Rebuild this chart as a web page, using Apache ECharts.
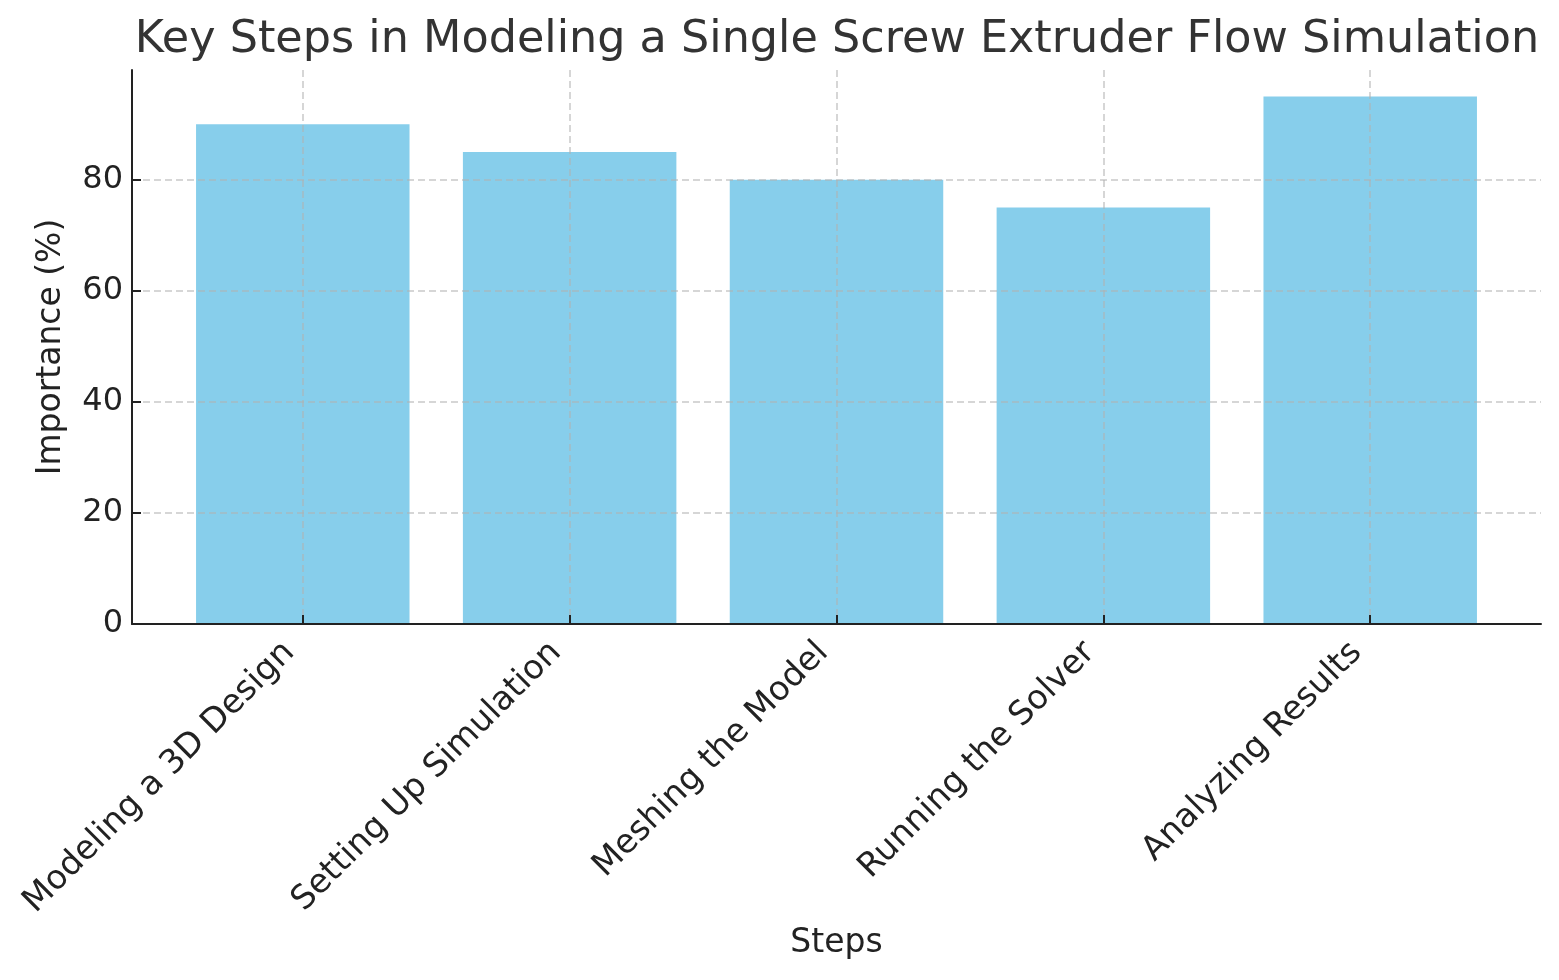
<!DOCTYPE html>
<html>
<head>
<meta charset="utf-8">
<script src="https://cdn.jsdelivr.net/npm/echarts@6/dist/echarts.min.js"></script>
<style>
html,body{margin:0;padding:0;background:#fff;}
#chart{width:1559px;height:980px;}
</style>
</head>
<body>
<div id="chart"></div>
<script>
const titleText = 'Key Steps in Modeling a Single Screw Extruder Flow Simulation';
const categories = ['Modeling a 3D Design', 'Setting Up Simulation', 'Meshing the Model', 'Running the Solver', 'Analyzing Results'];
const importance = [90, 85, 80, 75, 95];
const yTickMax = 80;
const yTickStep = 20;
const yLimit = 99.75;
const xAxisName = 'Steps';
const yAxisName = 'Importance (%)';

const FONT = 'DejaVu Sans';
const gridColor = 'rgba(176,176,176,0.7)';
const dark = '#222222';

// layout (pixels)
const axTop = 70, axBottom = 624, axLeft = 132, axRight = 1541;
const W = 1559, H = 980;
const n = categories.length;
const margin = 0.05 * (n - 1 + 0.8);
const xSpan = (n - 1) + 0.8 + 2 * margin;
const unit = (axRight - axLeft) / xSpan;
const inset = (0.4 + margin) * unit;
const grid2Top = axBottom - yTickMax * (axBottom - axTop) / yLimit;

const chart = echarts.init(document.getElementById('chart'), null, {renderer: 'canvas'});
chart.setOption({
  backgroundColor: '#ffffff',
  animation: false,
  title: {
    text: titleText,
    left: 832,
    textAlign: 'center',
    top: 13,
    textStyle: {fontFamily: FONT, fontSize: 44.5, fontWeight: 'normal', color: '#333333'}
  },
  grid: [
    {left: axLeft, right: W - axRight, top: axTop, bottom: H - axBottom},
    {left: axLeft + inset, right: W - axRight + inset, top: axTop, bottom: H - axBottom},
    {left: axLeft, right: W - axRight, top: grid2Top, bottom: H - axBottom}
  ],
  xAxis: [
    {gridIndex: 0, type: 'value', min: 0, max: 1, z: 6,
     axisLine: {show: true, onZero: false, lineStyle: {color: dark, width: 2}},
     axisTick: {show: false}, axisLabel: {show: false}, splitLine: {show: false}},
    {gridIndex: 1, type: 'category', data: categories, boundaryGap: false, z: 5,
     axisLine: {show: false},
     axisTick: {show: true, inside: true, length: 9, alignWithLabel: true, lineStyle: {color: dark, width: 2}},
     axisLabel: {show: true, rotate: 45, interval: 0, margin: 10, padding: [0, 19, 0, 0],
       fontFamily: FONT, fontSize: 33.5, color: dark},
     splitLine: {show: true, lineStyle: {color: gridColor, width: 1.5, type: [7, 4]}},
     name: xAxisName, nameLocation: 'middle', nameGap: 302,
     nameTextStyle: {fontFamily: FONT, fontSize: 33, color: dark}},
    {gridIndex: 2, type: 'value', min: 0, max: 1, show: false}
  ],
  yAxis: [
    {gridIndex: 0, type: 'value', min: 0, max: yLimit, z: 6,
     axisLine: {show: true, onZero: false, lineStyle: {color: dark, width: 2}},
     axisTick: {show: false}, axisLabel: {show: false}, splitLine: {show: false},
     name: yAxisName, nameLocation: 'middle', nameGap: 64,
     nameTextStyle: {fontFamily: FONT, fontSize: 33, color: dark}},
    {gridIndex: 1, type: 'value', min: 0, max: yLimit, show: false},
    {gridIndex: 2, type: 'value', min: 0, max: yTickMax, interval: yTickStep, z: 5,
     axisLine: {show: false},
     axisTick: {show: true, inside: true, length: 9, lineStyle: {color: dark, width: 2}},
     axisLabel: {show: true, margin: 9, fontFamily: FONT, fontSize: 32, color: dark},
     splitLine: {show: true, lineStyle: {color: gridColor, width: 1.5, type: [7, 4]}}}
  ],
  series: [{
    type: 'bar',
    xAxisIndex: 1,
    yAxisIndex: 1,
    data: importance,
    barWidth: '80%',
    clip: false,
    z: 2,
    itemStyle: {color: '#87CEEB'}
  }]
});
</script>
</body>
</html>
